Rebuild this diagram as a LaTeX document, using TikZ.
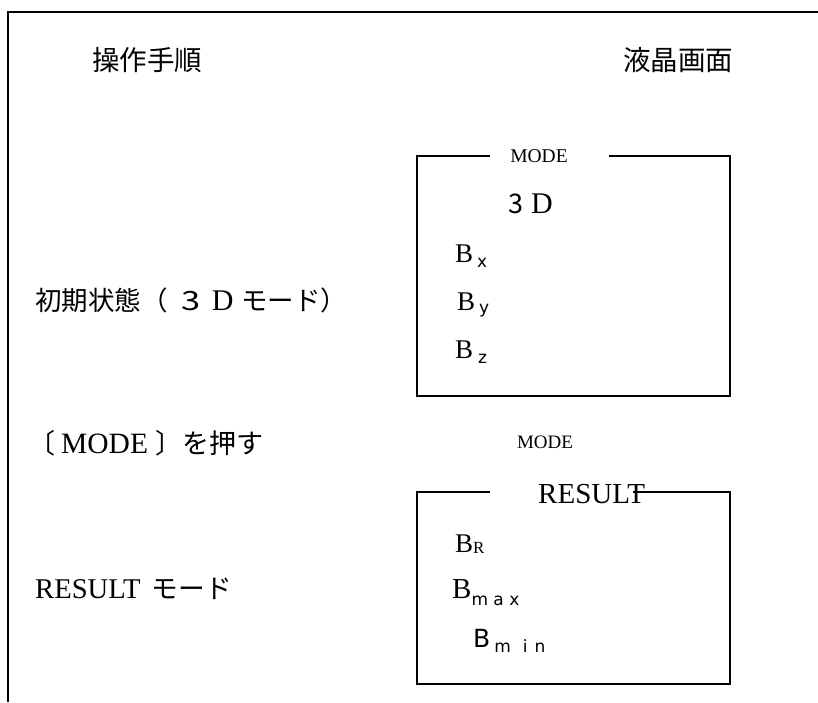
\documentclass[tikz,border=0pt]{standalone}
\usepackage{fontspec}
\setmainfont{Liberation Serif}
\newfontfamily\jp{Noto Sans CJK JP}
\newfontfamily\subsf{DejaVu Sans}
\newcommand{\fsz}[1]{\fontsize{#1}{#1}\selectfont}
\begin{document}
\begin{tikzpicture}[x=1pt,y=-1pt,
  lbl/.style={inner sep=0pt, anchor=base west},
  frame/.style={line width=2pt, line join=miter}]
\useasboundingbox (0,0) rectangle (818,702);
% outer frame (top and left)
\draw[frame] (818,12) -- (8,12) -- (8,702);
% column headers
\node[lbl] (hdrL) at (92,70) {\jp\fsz{27.5}操作手順};
\node[lbl] (hdrR) at (623,70) {\jp\fsz{27.5}液晶画面};
% left column steps
\node[lbl] (s1) at (35,310) {\jp\fsz{26.5}初期状態（\hspace{14pt}\scalebox{1.3}[1]{3}\hspace{11pt}{\rmfamily\fsz{30}D}\hspace{8pt}モード）};
\node[lbl] (s2) at (28,453) {\jp\fsz{27}〔\hspace{6pt}{\rmfamily\fsz{29.5}MODE}\hspace{7pt}〕を押す};
\node[lbl] (s3) at (35,598) {\fsz{28.6}RESULT\hspace{11pt}{\jp\fsz{26.7}モード}};
% LCD box 1 (3D mode)
\draw[frame] (490,156) -- (417,156) -- (417,396) -- (730,396) -- (730,156) -- (609,156);
\node[lbl, anchor=base] (m1) at (539,162) {\fsz{19.5}MODE};
\node[lbl] (d3) at (508,213) {\jp\fsz{27}3\hspace{8pt}{\rmfamily\fsz{30}D}};
\node[lbl] (bx) at (455,262) {\fsz{27}B\hspace{4pt}\raisebox{-5pt}{\subsf\fsz{17}x}};
\node[lbl] (by) at (457,310) {\fsz{27}B\hspace{4pt}\raisebox{-3pt}{\subsf\fsz{17}y}};
\node[lbl] (bz) at (455,358) {\fsz{27}B\hspace{5pt}\raisebox{-5pt}{\subsf\fsz{17}z}};
% MODE key between screens
\node[lbl, anchor=base] (m2) at (545,448) {\fsz{19}MODE};
% LCD box 2 (RESULT mode)
\draw[frame] (490,492) -- (417,492) -- (417,684) -- (730,684) -- (730,492) -- (633,492);
\node[lbl] (res) at (538,503) {\fsz{29}RESULT};
\node[lbl] (br) at (455,552) {\fsz{27}B\raisebox{-1pt}{\fsz{17}R}};
\node[lbl] (bmax) at (452,598) {\fsz{29}B\raisebox{-7pt}{\subsf\fsz{17}m a x}};
\node[lbl] (bmin) at (473,647) {\subsf\fsz{25}B\hspace{4pt}\raisebox{-5pt}{\fsz{17}m\hspace{12pt}i\hspace{7pt}n}};
\end{tikzpicture}
\end{document}
